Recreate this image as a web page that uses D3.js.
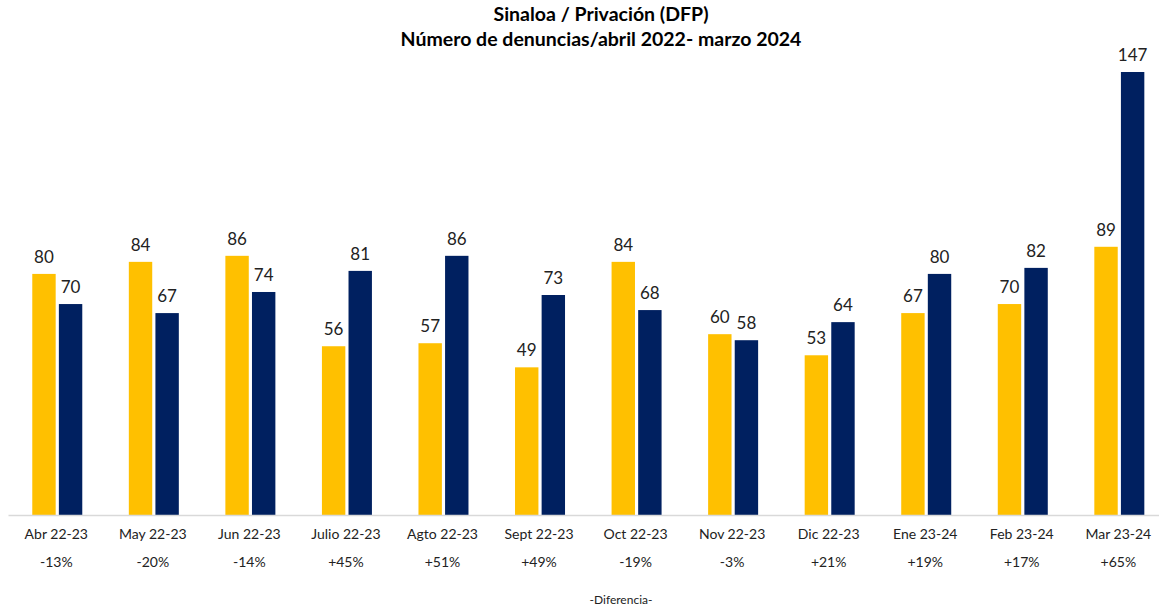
<!DOCTYPE html>
<html>
<head>
<meta charset="utf-8">
<script src="https://cdn.jsdelivr.net/npm/d3@7"></script>
<style>
  body { margin: 0; background: #fff; }
  svg { font-family: Lato, "Open Sans", sans-serif; }
</style>
</head>
<body>
<svg id="chart" width="1159" height="609"></svg>
<script>
// data
const months = ["Abr 22-23", "May 22-23", "Jun 22-23", "Julio 22-23", "Agto 22-23", "Sept 22-23",
  "Oct 22-23", "Nov 22-23", "Dic 22-23", "Ene 23-24", "Feb 23-24", "Mar 23-24"];
const prev = [80, 84, 86, 56, 57, 49, 84, 60, 53, 67, 70, 89];   // 2022-23
const curr = [70, 67, 74, 81, 86, 73, 68, 58, 64, 80, 82, 147];  // 2023-24
const diffs = ["-13%", "-20%", "-14%", "+45%", "+51%", "+49%", "-19%", "-3%", "+21%", "+19%", "+17%", "+65%"];
const series = ["prev", "curr"];

const colors = { prev: "#FFC000", curr: "#002060" };

const width = 1159, height = 609;
const margin = { left: 8, top: 72, bottom: 94 };
const step = 96.55;
const svg = d3.select("#chart");

const rows = months.map((m, i) => ({ month: m, prev: prev[i], curr: curr[i], diff: diffs[i] }));

const x = d3.scaleBand()
  .domain(months)
  .range([margin.left, margin.left + step * months.length]);

const xs = d3.scaleBand()
  .domain(series)
  .range([x.bandwidth() / 2 - 24, x.bandwidth() / 2 + 26])
  .paddingInner(0.12);

const y = d3.scaleLinear()
  .domain([0, 147])
  .range([height - margin.bottom, margin.top]);

// title
const title = svg.append("g")
  .attr("font-weight", "bold")
  .attr("font-size", 19.5)
  .attr("fill", "#000")
  .attr("text-anchor", "middle");
title.append("text").attr("x", 601).attr("y", 21).text("Sinaloa / Privación (DFP)");
title.append("text").attr("x", 601).attr("y", 46).text("Número de denuncias/abril 2022- marzo 2024");

// bars
const groups = svg.append("g")
  .selectAll("g")
  .data(rows)
  .join("g")
  .attr("transform", (d) => `translate(${x(d.month)},0)`);

groups.selectAll("rect")
  .data((d) => series.map((k) => ({ key: k, value: d[k] })))
  .join("rect")
  .attr("x", (d) => xs(d.key))
  .attr("width", xs.bandwidth())
  .attr("y", (d) => y(d.value))
  .attr("height", (d) => y(0) - y(d.value))
  .attr("fill", (d) => colors[d.key]);

groups.selectAll("text.val")
  .data((d) => series.map((k) => ({ key: k, value: d[k] })))
  .join("text")
  .attr("class", "val")
  .attr("x", (d) => xs(d.key) + xs.bandwidth() / 2)
  .attr("y", (d) => y(d.value) - 11)
  .attr("text-anchor", "middle")
  .attr("font-size", 17)
  .attr("fill", "#222")
  .text((d) => d.value);

// x axis
const xAxis = svg.append("g")
  .attr("transform", `translate(0,${y(0)})`)
  .call(d3.axisBottom(x).tickSize(0).tickPadding(14));
xAxis.select(".domain").attr("stroke", "#d9d9d9").attr("stroke-width", 1.5);
xAxis.selectAll("text")
  .attr("font-size", 14)
  .attr("fill", "#222")
  .attr("font-family", "Lato, 'Open Sans', sans-serif");

// percent differences
svg.append("g")
  .selectAll("text")
  .data(rows)
  .join("text")
  .attr("x", (d) => x(d.month) + x.bandwidth() / 2)
  .attr("y", 567)
  .attr("text-anchor", "middle")
  .attr("font-size", 14)
  .attr("fill", "#222")
  .text((d) => d.diff);

svg.append("text")
  .attr("x", 621)
  .attr("y", 604)
  .attr("text-anchor", "middle")
  .attr("font-size", 12)
  .attr("fill", "#222")
  .text("-Diferencia-");
</script>
</body>
</html>
